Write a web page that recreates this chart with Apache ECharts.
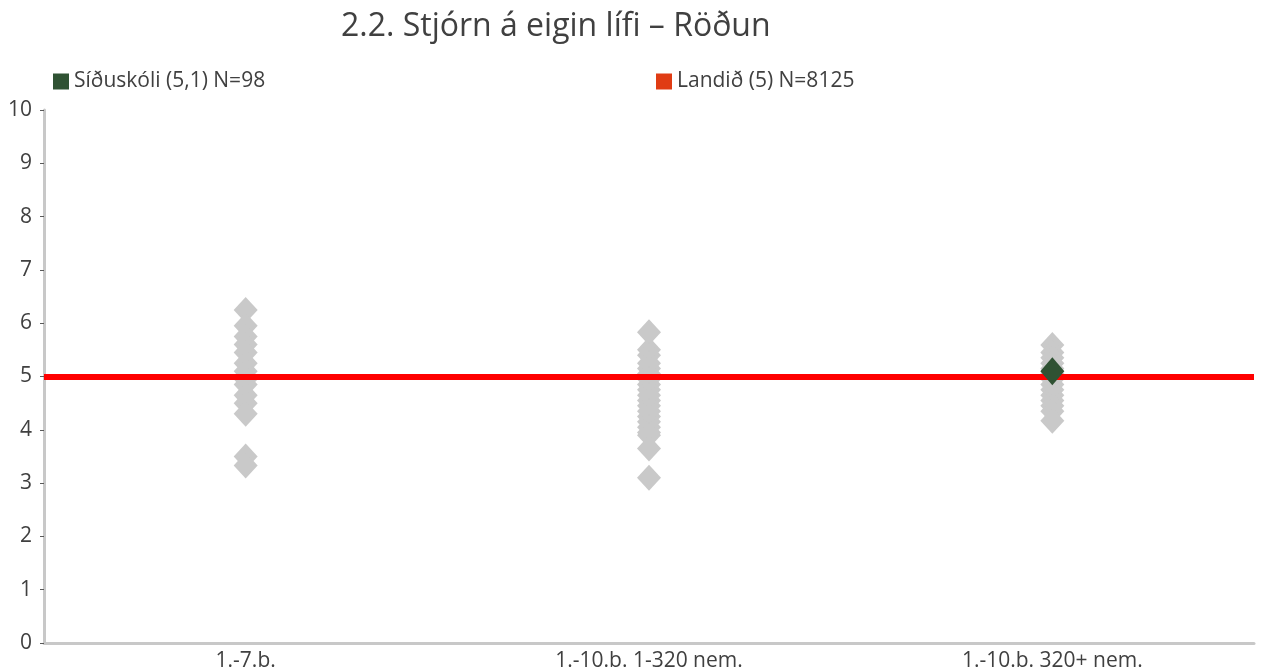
<!DOCTYPE html>
<html>
<head>
<meta charset="utf-8">
<script src="https://cdn.jsdelivr.net/npm/echarts@6/dist/echarts.min.js"></script>
<style>
  html, body { margin: 0; padding: 0; background: #ffffff; }
  #chart { width: 1266px; height: 672px; }
</style>
</head>
<body>
<div id="chart"></div>
<script>
// School groups on the x axis
const categories = ['1.-7.b.', '1.-10.b. 1-320 nem.', '1.-10.b. 320+ nem.'];

// School scores per group (grey diamonds)
const group1to7 = [6.25, 5.95, 5.75, 5.6, 5.45, 5.25, 5.1, 4.95, 4.85, 4.65, 4.5, 4.3, 3.5, 3.33];
const group1to10Small = [5.83, 5.5, 5.4, 5.25, 5.15, 5.05, 4.95, 4.85, 4.75, 4.65, 4.55, 4.45, 4.35, 4.25, 4.15, 4.05, 3.95, 3.9, 3.65, 3.1];
const group1to10Large = [5.59, 5.45, 5.35, 5.25, 5.15, 5.05, 4.95, 4.85, 4.75, 4.65, 4.55, 4.45, 4.35, 4.17];

// Highlighted school and national average
const schoolName = 'Síðuskóli (5,1) N=98';
const schoolGroup = 2;
const schoolValue = 5.1;
const nationName = 'Landið (5) N=8125';
const nationValue = 5;

const yTicks = [0, 1, 2, 3, 4, 5, 6, 7, 8, 9, 10];

const groups = [group1to7, group1to10Small, group1to10Large];
const greyPoints = [];
groups.forEach((vals, gi) => vals.forEach(v => greyPoints.push([gi, v])));

const font = "'Open Sans', 'DejaVu Sans', sans-serif";
const textColor = '#404040';

const chart = echarts.init(document.getElementById('chart'));
chart.setOption({
  animation: false,
  title: {
    text: '2.2. Stjórn á eigin lífi – Röðun',
    left: 336,
    top: 6,
    textStyle: { fontFamily: font, fontSize: 32, fontWeight: 'normal', color: textColor }
  },
  legend: [
    {
      left: 48, top: 66,
      icon: 'rect', itemWidth: 16, itemHeight: 16, itemGap: 8,
      textStyle: { fontFamily: font, fontSize: 21, color: textColor },
      data: [{ name: schoolName, itemStyle: { color: '#2f5233', opacity: 1 } }]
    },
    {
      left: 651, top: 66,
      icon: 'rect', itemWidth: 16, itemHeight: 16, itemGap: 8,
      textStyle: { fontFamily: font, fontSize: 21, color: textColor },
      data: [{ name: nationName, itemStyle: { color: '#e03c14', opacity: 1 } }]
    }
  ],
  grid: { left: 44, right: 12, top: 110, bottom: 27, containLabel: false },
  xAxis: {
    type: 'category',
    data: categories,
    boundaryGap: true,
    axisLine: { lineStyle: { color: '#c8c8c8', width: 3 } },
    axisTick: { show: false },
    axisLabel: { fontFamily: font, fontSize: 21, color: textColor, margin: 8 },
    splitLine: { show: false }
  },
  yAxis: {
    type: 'value',
    min: yTicks[0],
    max: yTicks[yTicks.length - 1],
    interval: 1,
    axisLine: { show: true, lineStyle: { color: '#c8c8c8', width: 3 } },
    axisTick: { show: true, length: 4, lineStyle: { color: '#595959', width: 1 } },
    axisLabel: { fontFamily: font, fontSize: 21, color: textColor, margin: 12 },
    splitLine: { show: false }
  },
  series: [
    {
      name: 'Skólar',
      type: 'scatter',
      symbol: 'diamond',
      symbolSize: [24, 26],
      itemStyle: { color: '#c9c9c9', opacity: 1 },
      data: greyPoints,
      z: 2
    },
    {
      name: nationName,
      type: 'line',
      data: [],
      itemStyle: { color: '#e03c14' },
      markLine: {
        silent: true,
        symbol: ['none', 'none'],
        label: { show: false },
        lineStyle: { color: '#ff0000', width: 6, type: 'solid', opacity: 1 },
        data: [{ yAxis: nationValue }]
      },
      z: 3
    },
    {
      name: schoolName,
      type: 'scatter',
      symbol: 'diamond',
      symbolSize: [24, 28],
      itemStyle: { color: '#2f5233', opacity: 1 },
      data: [[schoolGroup, schoolValue]],
      z: 5
    }
  ]
});
</script>
</body>
</html>
